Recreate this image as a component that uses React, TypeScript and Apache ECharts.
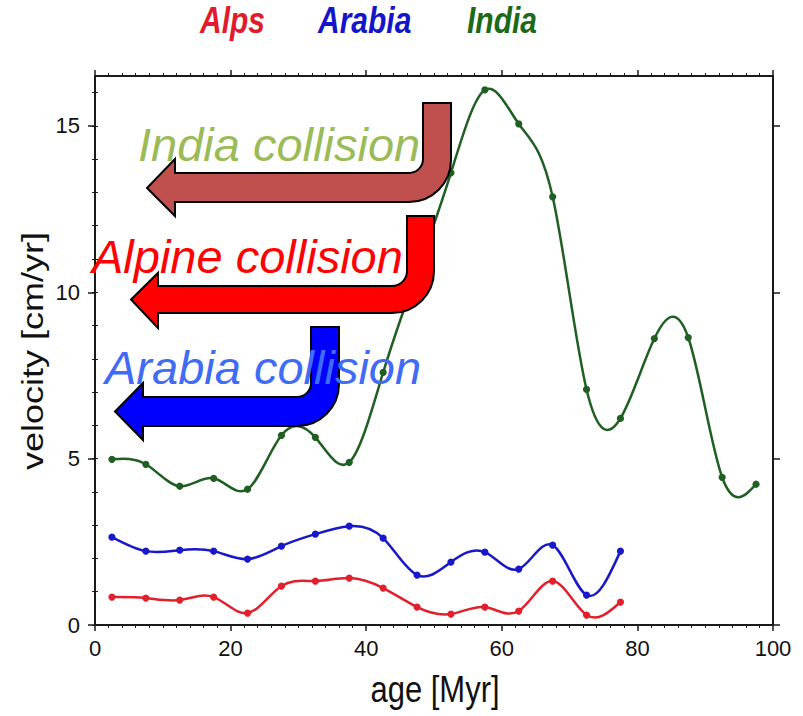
import { useEffect, useRef } from "react";
import * as echarts from "echarts";

const ages = [2.5, 7.5, 12.5, 17.5, 22.5, 27.5, 32.5, 37.5, 42.5, 47.5, 52.5, 57.5, 62.5, 67.5, 72.5, 77.5, 82.5, 87.5, 92.5, 97.5];
const india = [4.98, 4.83, 4.17, 4.41, 4.08, 5.7, 5.64, 4.89, 7.59, 10.6, 13.59, 16.08, 15.06, 12.87, 7.08, 6.21, 8.61, 8.64, 4.44, 4.23];
const arabia = [2.64, 2.22, 2.25, 2.22, 1.98, 2.37, 2.73, 2.97, 2.61, 1.5, 1.89, 2.19, 1.68, 2.4, 0.9, 2.22];
const alps = [0.84, 0.81, 0.75, 0.84, 0.36, 1.17, 1.32, 1.41, 1.11, 0.54, 0.33, 0.54, 0.42, 1.32, 0.3, 0.69];
const yMajor = [0, 5, 10, 15];
const yMinor = [0, 1, 2, 3, 4, 5, 6, 7, 8, 9, 10, 11, 12, 13, 14, 15, 16];

const NARROW = "'Liberation Sans Narrow', 'Arial Narrow', 'Liberation Sans', sans-serif";

type ArrowSpec = {
  xl: number; xr: number; top: number; sTop: number; sBot: number; sLeft: number;
  hTop: number; hBot: number; tipX: number; tipY: number; ro: number; ri: number;
};

function arrowPath(a: ArrowSpec) {
  const k = 0.4477;
  return [
    `M${a.xl},${a.top}`,
    `L${a.xr},${a.top}`,
    `L${a.xr},${a.sBot - a.ro}`,
    `C${a.xr},${a.sBot - a.ro * k} ${a.xr - a.ro * k},${a.sBot} ${a.xr - a.ro},${a.sBot}`,
    `L${a.sLeft},${a.sBot}`,
    `L${a.sLeft},${a.hBot}`,
    `L${a.tipX},${a.tipY}`,
    `L${a.sLeft},${a.hTop}`,
    `L${a.sLeft},${a.sTop}`,
    `L${a.xl - a.ri},${a.sTop}`,
    `C${a.xl - a.ri * k},${a.sTop} ${a.xl},${a.sTop - a.ri * k} ${a.xl},${a.sTop - a.ri}`,
    "Z",
  ].join(" ");
}

const arrowIndia: ArrowSpec = { xl: 423, xr: 451, top: 103, sTop: 173, sBot: 202, sLeft: 175, hTop: 159, hBot: 216, tipX: 147, tipY: 188, ro: 42, ri: 14 };
const arrowAlps: ArrowSpec = { xl: 407, xr: 434, top: 216, sTop: 286, sBot: 313, sLeft: 158, hTop: 273, hBot: 328, tipX: 131, tipY: 299.5, ro: 42, ri: 15 };
const arrowArabia: ArrowSpec = { xl: 311, xr: 339, top: 327, sTop: 397, sBot: 426, sLeft: 143, hTop: 383, hBot: 440, tipX: 115, tipY: 411.5, ro: 42, ri: 14 };

// slopes of a natural cubic spline through (xs, ys) — used only to shape the drawn curve
function splineSlopes(xs: number[], ys: number[]) {
  const n = xs.length;
  const h = xs.map((x, i) => (i < n - 1 ? xs[i + 1] - x : 0));
  const a = new Array(n).fill(0), b = new Array(n).fill(1), c = new Array(n).fill(0), d = new Array(n).fill(0);
  for (let i = 1; i < n - 1; i++) {
    a[i] = h[i - 1];
    b[i] = 2 * (h[i - 1] + h[i]);
    c[i] = h[i];
    d[i] = 6 * ((ys[i + 1] - ys[i]) / h[i] - (ys[i] - ys[i - 1]) / h[i - 1]);
  }
  // Thomas algorithm
  const cp = new Array(n).fill(0), dp = new Array(n).fill(0);
  cp[0] = c[0] / b[0];
  dp[0] = d[0] / b[0];
  for (let i = 1; i < n; i++) {
    const m = b[i] - a[i] * cp[i - 1];
    cp[i] = c[i] / m;
    dp[i] = (d[i] - a[i] * dp[i - 1]) / m;
  }
  const M = new Array(n).fill(0);
  M[n - 1] = dp[n - 1];
  for (let i = n - 2; i >= 0; i--) M[i] = dp[i] - cp[i] * M[i + 1];
  const slopes: number[] = [];
  for (let i = 0; i < n; i++) {
    if (i < n - 1) slopes.push((ys[i + 1] - ys[i]) / h[i] - (h[i] * (2 * M[i] + M[i + 1])) / 6);
    else slopes.push((ys[i] - ys[i - 1]) / h[i - 1] + (h[i - 1] * (M[i - 1] + 2 * M[i])) / 6);
  }
  return slopes;
}

export default function App() {
  const ref = useRef<HTMLDivElement>(null);
  useEffect(() => {
    if (!ref.current) return;
    echarts.graphic.registerShape("arrowIndia", echarts.graphic.extendPath(arrowPath(arrowIndia), {}));
    echarts.graphic.registerShape("arrowAlps", echarts.graphic.extendPath(arrowPath(arrowAlps), {}));
    echarts.graphic.registerShape("arrowArabia", echarts.graphic.extendPath(arrowPath(arrowArabia), {}));
    const chart = echarts.init(ref.current, null, { renderer: "svg" });

    const axisLine = { show: true, onZero: false, lineStyle: { color: "#1a1a1a", width: 2 } };
    const tickStyle = { color: "#1a1a1a", width: 1.5 };
    const labelStyle = { fontFamily: NARROW, fontSize: 22, color: "#111" };

    const mkSeries = (name: string, vals: number[], color: string) => {
      const xs = ages.slice(0, vals.length);
      const ms = splineSlopes(xs, vals);
      const n = vals.length;
      return {
        type: "custom",
        name,
        data: vals.map((v, i) => [xs[i], v]),
        encode: { x: 0, y: 1 },
        xAxisIndex: 0,
        yAxisIndex: 0,
        z: 3,
        renderItem: (params: any, api: any) => {
          const i = params.dataIndex;
          const p = api.coord([xs[i], vals[i]]);
          const children: any[] = [];
          if (i < n - 1) {
            const h = xs[i + 1] - xs[i];
            const c1 = api.coord([xs[i] + h / 3, vals[i] + (ms[i] * h) / 3]);
            const c2 = api.coord([xs[i + 1] - h / 3, vals[i + 1] - (ms[i + 1] * h) / 3]);
            const q = api.coord([xs[i + 1], vals[i + 1]]);
            children.push({
              type: "bezierCurve",
              shape: { x1: p[0], y1: p[1], cpx1: c1[0], cpy1: c1[1], cpx2: c2[0], cpy2: c2[1], x2: q[0], y2: q[1] },
              style: { stroke: color, lineWidth: 2.5, fill: "none" },
            });
          }
          children.push({ type: "circle", shape: { cx: p[0], cy: p[1], r: 3.6 }, style: { fill: color } });
          return { type: "group", children };
        },
      };
    };

    const text = (t: string, x: number, y: number, font: string, fill: string, extra: any = {}) => ({
      type: "text",
      x,
      y,
      z: 60,
      ...extra,
      style: { text: t, font, fill, textAlign: extra.align || "left", align: extra.align || "left", textVerticalAlign: "middle", verticalAlign: "middle" },
    });

    chart.setOption({
      animation: false,
      backgroundColor: "#fff",
      grid: { left: 95, top: 76, width: 678, height: 549, containLabel: false },
      xAxis: [
        {
          type: "value", position: "bottom", min: 0, max: 100, interval: 20,
          axisLine, axisTick: { show: true, inside: false, length: 6, lineStyle: tickStyle },
          minorTick: { show: true, splitNumber: 10, length: 3, lineStyle: { color: "#1a1a1a", width: 1 } },
          axisLabel: { ...labelStyle, margin: 12 },
          splitLine: { show: false },
        },
        {
          type: "value", position: "top", min: 0, max: 100, interval: 20,
          axisLine, axisTick: { show: true, inside: false, length: 6, lineStyle: tickStyle },
          minorTick: { show: true, splitNumber: 10, length: 3, lineStyle: { color: "#1a1a1a", width: 1 } },
          axisLabel: { show: false },
          splitLine: { show: false },
        },
      ],
      yAxis: [
        {
          type: "value", position: "left", min: 0, max: 16.5,
          axisLine, axisTick: { show: true, inside: false, length: 7, lineStyle: tickStyle, customValues: yMajor },
          axisLabel: { ...labelStyle, margin: 15, customValues: yMajor },
          splitLine: { show: false },
        },
        {
          type: "value", position: "right", min: 0, max: 16.5,
          axisLine, axisTick: { show: true, inside: false, length: 7, lineStyle: tickStyle, customValues: yMajor },
          axisLabel: { show: false },
          splitLine: { show: false },
        },
        {
          type: "value", position: "left", min: 0, max: 16.5,
          axisLine: { show: false }, axisTick: { show: true, inside: false, length: 3, lineStyle: { color: "#1a1a1a", width: 1 }, customValues: yMinor },
          axisLabel: { show: false },
          splitLine: { show: false },
        },
        {
          type: "value", position: "right", min: 0, max: 16.5,
          axisLine: { show: false }, axisTick: { show: true, inside: false, length: 3, lineStyle: { color: "#1a1a1a", width: 1 }, customValues: yMinor },
          axisLabel: { show: false },
          splitLine: { show: false },
        },
      ],
      series: [
        mkSeries("Alps", alps, "#e2202c"),
        mkSeries("Arabia", arabia, "#1818c8"),
        mkSeries("India", india, "#1f5f22"),
      ],
      graphic: [
        { type: "arrowIndia", x: 0, y: 0, z: 50, style: { fill: "#C0504D", stroke: "#000", lineWidth: 2 } },
        { type: "arrowAlps", x: 0, y: 0, z: 50, style: { fill: "#FF0000", stroke: "#000", lineWidth: 2 } },
        { type: "arrowArabia", x: 0, y: 0, z: 50, style: { fill: "#0000FF", stroke: "#000", lineWidth: 2 } },
        text("India collision", 138, 144, "italic 47px 'Liberation Sans', Arial, sans-serif", "#9BBB59"),
        text("Alpine collision", 92, 256, "italic 47px 'Liberation Sans', Arial, sans-serif", "#FF0000"),
        text("Arabia collision", 105, 367, "italic 47px 'Liberation Sans', Arial, sans-serif", "#3F6BF5"),
        text("Alps", 200, 21, "italic bold 30px 'Liberation Sans', Arial, sans-serif", "#e01b2b", { scaleY: 1.2 }),
        text("Arabia", 318, 21, "italic bold 30px 'Liberation Sans', Arial, sans-serif", "#1515c8", { scaleY: 1.2 }),
        text("India", 467, 21, "italic bold 30px 'Liberation Sans', Arial, sans-serif", "#1a6a1a", { scaleY: 1.2 }),
        text("age [Myr]", 435, 689, "31px 'Liberation Sans', Arial, sans-serif", "#111", { scaleY: 1.2, align: "center" }),
        text("velocity [cm/yr]", 33, 351, "30px 'Liberation Sans', Arial, sans-serif", "#111", { scaleX: 1.2, rotation: Math.PI / 2, align: "center" }),
      ],
    });
    return () => chart.dispose();
  }, []);
  return <div ref={ref} style={{ position: "fixed", left: 0, top: 0, width: 803, height: 716, background: "#fff" }} />;
}
